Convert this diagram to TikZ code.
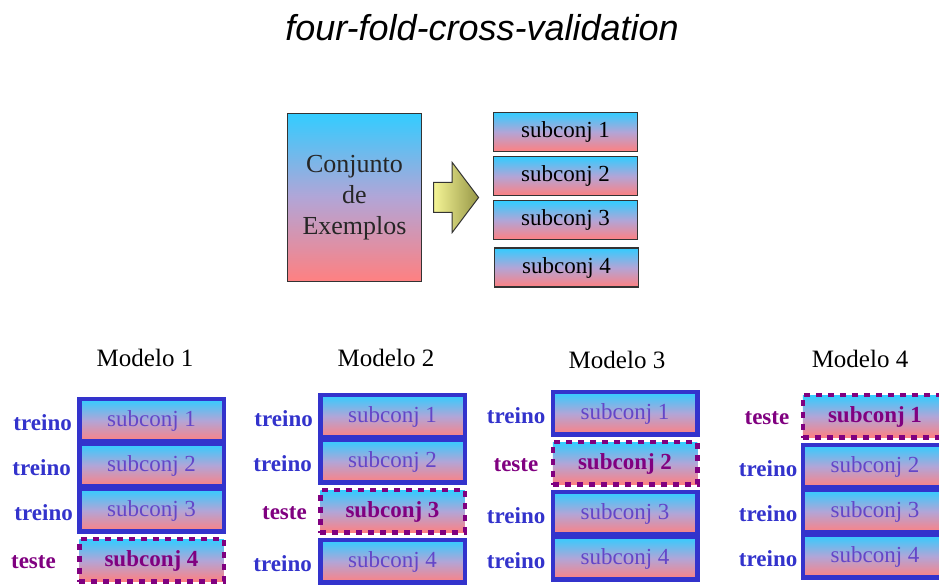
\documentclass[tikz,border=0pt]{standalone}
\usepackage{fontspec}
\setmainfont{Liberation Serif}
\newfontfamily\titlefont{Liberation Sans}
\usetikzlibrary{positioning,shapes.arrows}
\definecolor{foldtop}{RGB}{51,204,255}
\definecolor{foldmid}{RGB}{178,165,215}
\definecolor{foldbot}{RGB}{255,128,128}
\definecolor{treinoblue}{RGB}{51,51,204}
\definecolor{testepurple}{RGB}{128,0,128}
\definecolor{subtext}{RGB}{100,70,200}
\definecolor{arrowlight}{RGB}{245,245,150}
\definecolor{arrowdark}{RGB}{150,150,70}

\tikzset{
  fold/.style={rectangle, top color=foldtop, bottom color=foldbot, middle color=foldmid, inner sep=0pt, font=\fontsize{23}{26}\selectfont},
  subbox/.style={fold, draw=black!80, line width=1.2pt, minimum width=144pt, minimum height=39pt},
  trainbox/.style={fold, draw=treinoblue, line width=4.5pt, minimum width=144.5pt, minimum height=42.5pt, text=subtext},
  testbox/.style={fold, draw=testepurple, line width=4.5pt, dash pattern=on 6pt off 6pt, minimum width=144.5pt, minimum height=42.5pt, text=testepurple, font=\fontsize{23}{26}\selectfont\bfseries},
  trainlabel/.style={text=treinoblue, inner sep=1pt, yshift=-2pt, font=\fontsize{23}{26}\selectfont\bfseries},
  testlabel/.style={text=testepurple, inner sep=1pt, yshift=-2pt, font=\fontsize{23}{26}\selectfont\bfseries},
  modeltitle/.style={font=\fontsize{25}{28}\selectfont}
}

\begin{document}
\begin{tikzpicture}[x=1pt, y=1pt, node distance=5pt]
    \useasboundingbox (0,0) rectangle (939,585);
    \node[font=\titlefont\itshape\fontsize{36}{40}\selectfont] (title) at (482,557) {four-fold-cross-validation};

    % conjunto e subconjuntos
    \node[fold, draw=black!80, line width=1.2pt, minimum width=134pt, minimum height=168pt, align=center, text=black!85, font=\fontsize{26}{31}\selectfont] (conj) at (354.5,387.5) {Conjunto\\de\\Exemplos};
    \node[single arrow, draw=black!80, line width=1pt, left color=arrowlight, right color=arrowdark, minimum height=45pt, single arrow head extend=20pt, single arrow tip angle=106, inner xsep=0pt, inner ysep=14.5pt, right=11pt of conj] (seta) {};
    \node[subbox] (s1) at (565.5,453) {subconj 1};
    \node[subbox, below=4pt of s1] (s2) {subconj 2};
    \node[subbox, below=4pt of s2] (s3) {subconj 3};
    \node[subbox, below=7pt of s3, xshift=1pt] (s4) {subconj 4};

    % Modelo 1
    \node[modeltitle] (t1) at (145,227) {Modelo 1};
    \node[trainbox] (m1a) at (151.5,164.5) {subconj 1};
    \node[trainbox, below=-2pt of m1a] (m1b) {subconj 2};
    \node[trainbox, below=-2pt of m1b] (m1c) {subconj 3};
    \node[testbox, below=3pt of m1c] (m1d) {subconj 4};
    \node[trainlabel, left=4pt of m1a] (l1a) {treino};
    \node[trainlabel, left=5pt of m1b] (l1b) {treino};
    \node[trainlabel, left=3pt of m1c] (l1c) {treino};
    \node[testlabel, left=20pt of m1d] (l1d) {teste};

    % Modelo 2
    \node[modeltitle] (t2) at (386,227) {Modelo 2};
    \node[trainbox] (m2a) at (392.5,168.5) {subconj 1};
    \node[trainbox, below=-2pt of m2a] (m2b) {subconj 2};
    \node[testbox, below=3pt of m2b] (m2c) {subconj 3};
    \node[trainbox, below=3pt of m2c] (m2d) {subconj 4};
    \node[trainlabel, left=4pt of m2a] (l2a) {treino};
    \node[trainlabel, left=5pt of m2b] (l2b) {treino};
    \node[testlabel, left=10pt of m2c] (l2c) {teste};
    \node[trainlabel, left=5pt of m2d] (l2d) {treino};

    % Modelo 3
    \node[modeltitle] (t3) at (617,225) {Modelo 3};
    \node[trainbox] (m3a) at (625,171.5) {subconj 1};
    \node[testbox, below=3pt of m3a] (m3b) {subconj 2};
    \node[trainbox, below=3pt of m3b] (m3c) {subconj 3};
    \node[trainbox, below=-2pt of m3c] (m3d) {subconj 4};
    \node[trainlabel, left=4pt of m3a] (l3a) {treino};
    \node[testlabel, left=11pt of m3b] (l3b) {teste};
    \node[trainlabel, left=4pt of m3c] (l3c) {treino};
    \node[trainlabel, left=4pt of m3d] (l3d) {treino};

    % Modelo 4
    \node[modeltitle] (t4) at (860,226) {Modelo 4};
    \node[testbox] (m4a) at (875,168.5) {subconj 1};
    \node[trainbox, below=3pt of m4a] (m4b) {subconj 2};
    \node[trainbox, below=-2pt of m4b] (m4c) {subconj 3};
    \node[trainbox, below=-2pt of m4c] (m4d) {subconj 4};
    \node[testlabel, left=10pt of m4a] (l4a) {teste};
    \node[trainlabel, left=2pt of m4b] (l4b) {treino};
    \node[trainlabel, left=2pt of m4c] (l4c) {treino};
    \node[trainlabel, left=2pt of m4d] (l4d) {treino};
\end{tikzpicture}
\end{document}
